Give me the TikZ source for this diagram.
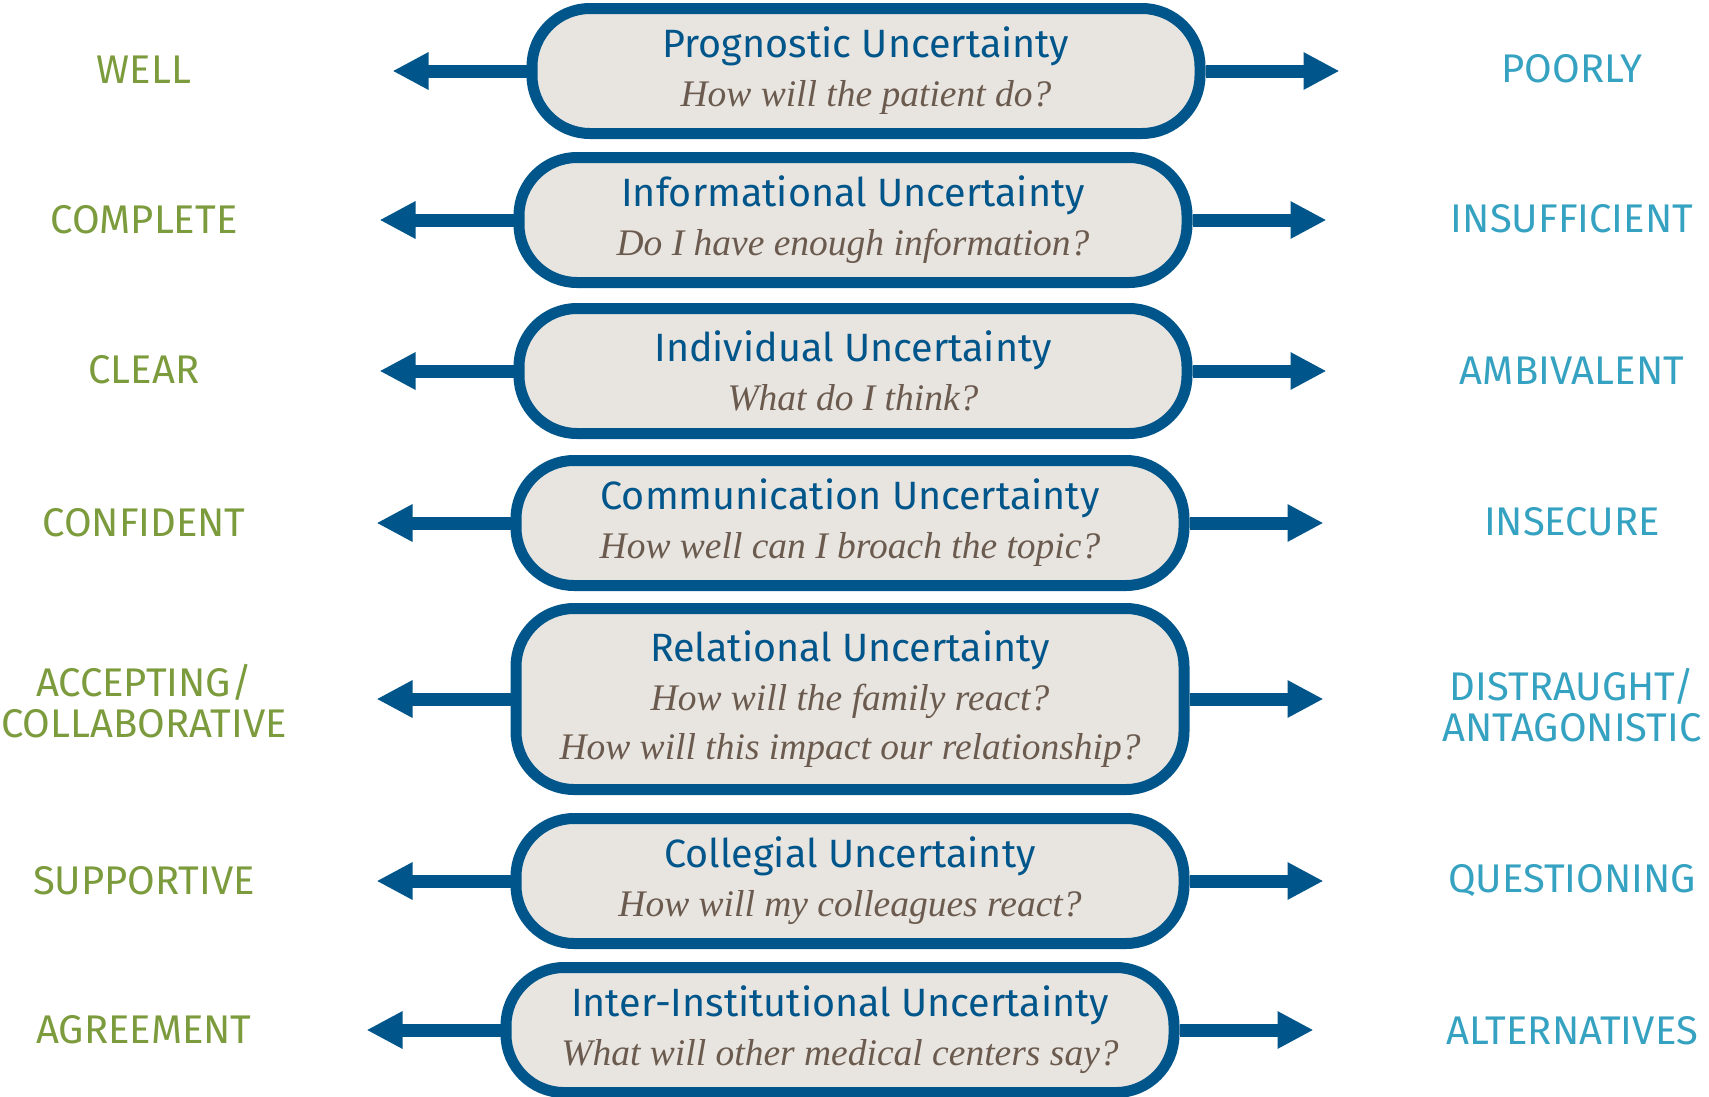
\documentclass[tikz,border=0pt]{standalone}
\usepackage{fontspec}
\usetikzlibrary{arrows.meta}
\newfontfamily\titlef{Fira Sans}
\newfontfamily\sidef{Fira Sans}
\newfontfamily\qf{Liberation Serif}
\definecolor{boxblue}{HTML}{00568A}
\definecolor{boxfill}{HTML}{E8E4E0}
\definecolor{qbrown}{HTML}{6B5B4F}
\definecolor{lgreen}{HTML}{7B9B3C}
\definecolor{rteal}{HTML}{36A2C1}
\newcommand{\ttl}[1]{{\titlef\fontsize{39.5}{49}\selectfont\color{boxblue}#1}}
\newcommand{\qq}[1]{{\qf\itshape\fontsize{37.5}{49}\selectfont\color{qbrown}#1}}
\tikzset{
  ubox/.style={draw=boxblue, fill=boxfill, line width=11pt, rounded corners=58pt,
    minimum width=668pt, minimum height=125pt, align=center, inner sep=0pt,
    font=\fontsize{37.5}{49}\selectfont},
  arr/.style={draw=boxblue, line width=13pt, -{Triangle[length=36pt,width=35pt]}},
  lft/.style={font=\sidef\fontsize{40}{41}\selectfont, text=lgreen, align=center},
  rgt/.style={font=\sidef\fontsize{40}{41}\selectfont, text=rteal, align=center}
}
\begin{document}
\begin{tikzpicture}[x=1pt,y=-1pt]
\useasboundingbox (0,0) rectangle (1709,1096);
\node[ubox] (b1) at (866,71) {\ttl{Prognostic Uncertainty}\\\qq{How will the patient do?}};
\node[ubox] (b2) at (853,220) {\ttl{Informational Uncertainty}\\\qq{Do I have enough information?}};
\node[ubox] (b3) at (853,371) {\ttl{Individual Uncertainty}\\\qq{What do I think?}};
\node[ubox] (b4) at (850,523) {\ttl{Communication Uncertainty}\\\qq{How well can I broach the topic?}};
\node[ubox, minimum height=181pt] (b5) at (850,699) {\ttl{Relational Uncertainty}\\\qq{How will the family react?}\\\qq{How will this impact our relationship?}};
\node[ubox] (b6) at (850,881) {\ttl{Collegial Uncertainty}\\\qq{How will my colleagues react?}};
\node[ubox] (b7) at (840,1030) {\ttl{Inter-Institutional Uncertainty}\\\qq{What will other medical centers say?}};
\foreach \i in {1,...,7}{
  \coordinate (l\i) at ([xshift=-134pt]b\i.west);
  \coordinate (r\i) at ([xshift=134pt]b\i.east);
  \draw[arr] (b\i.west) -- (l\i);
  \draw[arr] (b\i.east) -- (r\i);
}
\node[lft] (w1) at (144,70) {WELL};
\node[lft] (w2) at (144,220) {COMPLETE};
\node[lft] (w3) at (144,370) {CLEAR};
\node[lft] (w4) at (144,523) {CONFIDENT};
\node[lft] (w5) at (144,701) {ACCEPTING/\\COLLABORATIVE};
\node[lft] (w6) at (144,881) {SUPPORTIVE};
\node[lft] (w7) at (144,1030) {AGREEMENT};
\node[rgt] (p1) at (1572,69) {POORLY};
\node[rgt] (p2) at (1572,219) {INSUFFICIENT};
\node[rgt] (p3) at (1572,371) {AMBIVALENT};
\node[rgt] (p4) at (1572,522) {INSECURE};
\node[rgt] (p5) at (1572,705) {DISTRAUGHT/\\ANTAGONISTIC};
\node[rgt] (p6) at (1572,881) {QUESTIONING};
\node[rgt] (p7) at (1572,1031) {ALTERNATIVES};
\end{tikzpicture}
\end{document}
